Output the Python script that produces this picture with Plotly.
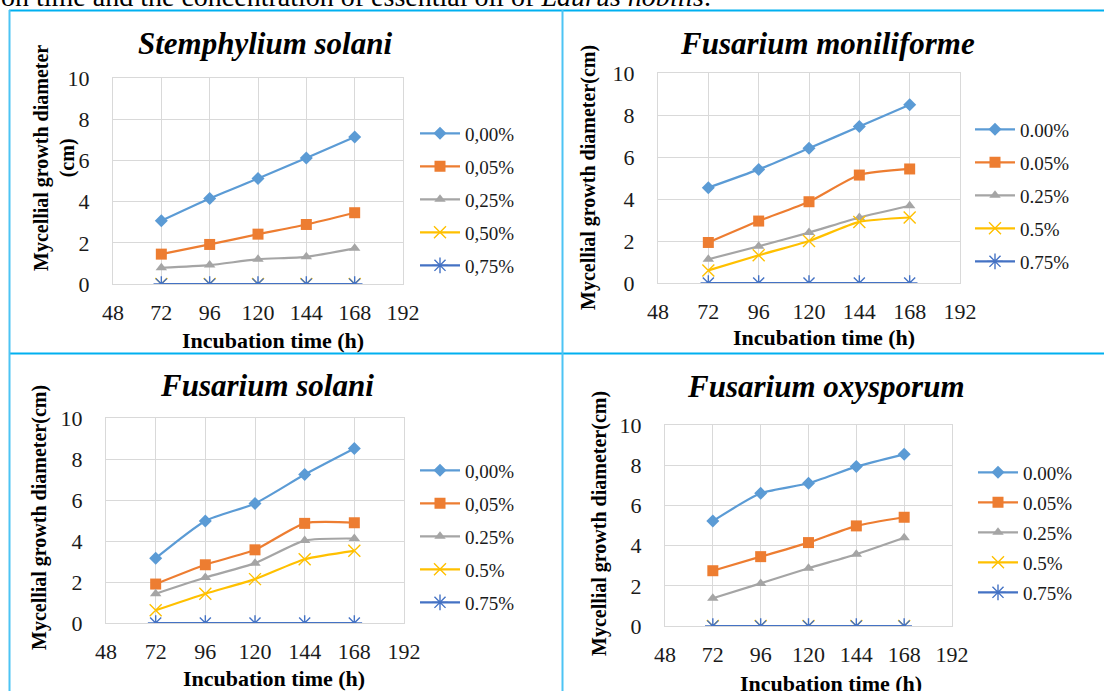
import plotly.graph_objects as go

W, H = 1104, 691

hours = [72, 96, 120, 144, 168]
x_ticks = [48, 72, 96, 120, 144, 168, 192]
y_ticks = [0, 2, 4, 6, 8, 10]

titles = ["Stemphylium solani", "Fusarium moniliforme", "Fusarium solani", "Fusarium oxysporum"]

labels_p1 = ["0,00%", "0,05%", "0,25%", "0,50%", "0,75%"]
labels_p2 = ["0.00%", "0.05%", "0.25%", "0.5%", "0.75%"]
labels_p3 = ["0,00%", "0,05%", "0.25%", "0.5%", "0.75%"]
labels_p4 = ["0.00%", "0.05%", "0.25%", "0.5%", "0.75%"]

# Stemphylium solani
ss_000 = [3.07, 4.15, 5.12, 6.12, 7.14]
ss_005 = [1.45, 1.92, 2.42, 2.89, 3.46]
ss_025 = [0.79, 0.92, 1.20, 1.32, 1.73]
ss_050 = [0, 0, 0, 0, 0]
ss_075 = [0, 0, 0, 0, 0]

# Fusarium moniliforme
fm_000 = [4.54, 5.41, 6.42, 7.45, 8.49]
fm_005 = [1.93, 2.95, 3.87, 5.14, 5.43]
fm_025 = [1.13, 1.75, 2.40, 3.12, 3.68]
fm_050 = [0.60, 1.32, 2.00, 2.91, 3.12]
fm_075 = [0, 0, 0, 0, 0]

# Fusarium solani
fs_000 = [3.16, 4.98, 5.83, 7.24, 8.51]
fs_005 = [1.90, 2.84, 3.57, 4.86, 4.89]
fs_025 = [1.43, 2.22, 2.92, 4.02, 4.12]
fs_050 = [0.62, 1.43, 2.14, 3.11, 3.52]
fs_075 = [0, 0, 0, 0, 0]

# Fusarium oxysporum
fo_000 = [5.22, 6.60, 7.10, 7.93, 8.54]
fo_005 = [2.75, 3.45, 4.15, 4.98, 5.41]
fo_025 = [1.38, 2.12, 2.87, 3.57, 4.39]
fo_050 = [0, 0, 0, 0, 0]
fo_075 = [0, 0, 0, 0, 0]

panels_data = [
    (labels_p1, [ss_000, ss_005, ss_025, ss_050, ss_075]),
    (labels_p2, [fm_000, fm_005, fm_025, fm_050, fm_075]),
    (labels_p3, [fs_000, fs_005, fs_025, fs_050, fs_075]),
    (labels_p4, [fo_000, fo_005, fo_025, fo_050, fo_075]),
]

colors = ["#5B9BD5", "#ED7D31", "#A5A5A5", "#FFC000", "#4472C4"]
symbols = ["diamond", "square", "triangle-up", "x-thin-open", "asterisk-open"]
msizes = [10, 11, 10, 12, 13]

FONT = "Liberation Serif, Times New Roman, serif"

# layout geometry in pixels: (x0, x1, ytop, ybottom)
plot_px = [
    (113, 403, 78, 284),
    (658, 960, 73, 283),
    (106, 404, 418, 623),
    (665, 952, 425, 626),
]
legend_px = [(415, 114.5, 33), (970, 110.5, 33), (415, 451.5, 33), (973, 453.5, 30)]
title_px = [(265, 43), (827, 43), (267, 385), (826, 386)]
xtitle_px = [(273, 340), (824, 337), (274, 678), (831, 683)]
ytitle_px = [(54, 158), (588, 178), (39, 518), (599, 524)]
ytitle_txt = ["Mycellial growth diameter<br>(cm)", "Mycellial growth diameter(cm)",
              "Mycellial growth diameter(cm)", "Mycellial growth diameter(cm)"]


def px(x):
    return x / W


def py(y):
    return 1 - y / H


fig = go.Figure()
layout = {}
annotations = []

for i, (labels, series) in enumerate(panels_data):
    n = "" if i == 0 else str(i + 1)
    lg = "legend" if i == 0 else f"legend{i + 1}"
    for j, (lab, vals) in enumerate(zip(labels, series)):
        mk = dict(symbol=symbols[j], size=msizes[j], color=colors[j])
        if j >= 3:
            mk["line"] = dict(color=colors[j], width=1.4)
        fig.add_trace(go.Scatter(
            x=hours, y=vals, name=lab, mode="lines+markers",
            line=dict(color=colors[j], width=2.2, shape="spline", smoothing=0.6),
            marker=mk, xaxis="x" + n, yaxis="y" + n,
            legend=lg, legendgroup=f"p{i}g{j}",
        ))
    x0, x1, yt, yb = plot_px[i]
    layout["xaxis" + n] = dict(
        domain=[px(x0), px(x1)], anchor="y" + n, range=[48, 192],
        tickvals=x_ticks, showgrid=True, gridcolor="#D9D9D9", gridwidth=1,
        showline=True, linecolor="#D9D9D9", mirror=True, zeroline=False,
        ticks="", ticklabelstandoff=9, automargin=False,
        tickfont=dict(family=FONT, size=22, color="#1a1a1a"),
    )
    layout["yaxis" + n] = dict(
        domain=[py(yb), py(yt)], anchor="x" + n, range=[0, 10],
        tickvals=y_ticks, showgrid=True, gridcolor="#D9D9D9", gridwidth=1,
        showline=True, linecolor="#D9D9D9", mirror=True, zeroline=False,
        ticks="", ticklabelstandoff=18, automargin=False,
        tickfont=dict(family=FONT, size=22, color="#1a1a1a"),
    )
    lx, ly, gap = legend_px[i]
    layout[lg] = dict(
        x=px(lx), y=py(ly), xanchor="left", yanchor="top",
        xref="paper", yref="paper", bgcolor="rgba(0,0,0,0)",
        font=dict(family=FONT, size=19, color="#1a1a1a"),
        traceorder="grouped", tracegroupgap=gap - 27.7, itemwidth=40,
    )
    tx, ty = title_px[i]
    annotations.append(dict(
        text=f"<b><i>{titles[i]}</i></b>", x=px(tx), y=py(ty), xref="paper", yref="paper",
        showarrow=False, xanchor="center", yanchor="middle",
        font=dict(family=FONT, size=31, color="#000000"),
    ))
    ax_, ay_ = xtitle_px[i]
    annotations.append(dict(
        text="<b>Incubation time (h)</b>", x=px(ax_), y=py(ay_), xref="paper", yref="paper",
        showarrow=False, xanchor="center", yanchor="middle",
        font=dict(family=FONT, size=22, color="#000000"),
    ))
    yx, yy = ytitle_px[i]
    annotations.append(dict(
        text=f"<b>{ytitle_txt[i]}</b>", x=px(yx), y=py(yy), xref="paper", yref="paper",
        showarrow=False, xanchor="center", yanchor="middle", textangle=-90,
        font=dict(family=FONT, size=20, color="#000000"),
    ))

annotations.append(dict(
    text="on time and the concentration of essential oil of <i>Laurus nobilis</i>.",
    x=px(-1), y=py(14), xref="paper", yref="paper", showarrow=False,
    xanchor="left", yanchor="bottom",
    font=dict(family=FONT, size=28, color="#000000"),
))

shapes = [
    dict(type="line", xref="paper", yref="paper", x0=px(9), x1=px(1104), y0=py(10.5), y1=py(10.5),
         line=dict(color="#00B0F0", width=2)),
    dict(type="line", xref="paper", yref="paper", x0=px(9), x1=px(1104), y0=py(353.5), y1=py(353.5),
         line=dict(color="#00B0F0", width=2)),
    dict(type="line", xref="paper", yref="paper", x0=px(9.5), x1=px(9.5), y0=py(10), y1=py(691),
         line=dict(color="#4CC4F4", width=2)),
    dict(type="line", xref="paper", yref="paper", x0=px(562.5), x1=px(562.5), y0=py(10), y1=py(691),
         line=dict(color="#4CC4F4", width=2)),
]

fig.update_layout(
    width=W, height=H, margin=dict(l=0, r=0, t=0, b=0, pad=0, autoexpand=False),
    paper_bgcolor="white", plot_bgcolor="white",
    annotations=annotations, shapes=shapes, **layout,
)

fig.write_html("out.html", config={"displayModeBar": False},
               post_script="document.body.style.margin='0';")
